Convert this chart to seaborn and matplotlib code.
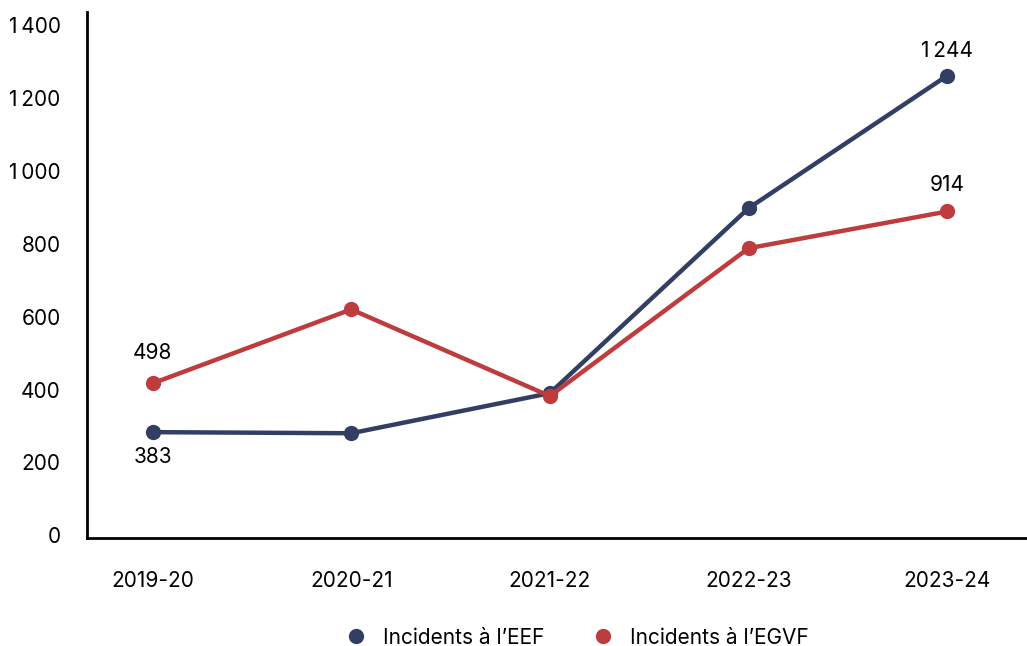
import pandas as pd
import matplotlib.pyplot as plt
import matplotlib.ticker as mticker
from matplotlib.lines import Line2D
import seaborn as sns

# data
years = ['2019-20', '2020-21', '2021-22', '2022-23', '2023-24']
eef = [283, 280, 390, 898, 1262]
egvf = [417, 620, 382, 788, 889]
series_names = ['Incidents à l\u2019EEF', 'Incidents à l\u2019EGVF']
colors = ['#323E62', '#BE3C3D']

# labels printed on the chart (index, text, offset in points)
eef_labels = [(0, '383', -18), (4, '1\u2009244', 18)]
egvf_labels = [(0, '498', 22), (4, '914', 19)]

df = pd.DataFrame({
    'year': years * 2,
    'value': eef + egvf,
    'series': [series_names[0]] * len(years) + [series_names[1]] * len(years),
})

sns.set_style('white')
plt.rcParams['font.family'] = ['Inter', 'DejaVu Sans']
plt.rcParams['text.color'] = 'black'

fig = plt.figure(figsize=(10.27, 6.46), dpi=100)
ax = fig.add_axes([0.0847, 0.167, 0.915, 0.814])

sns.lineplot(data=df, x='year', y='value', hue='series', palette=colors,
             marker='o', markersize=11, markeredgewidth=0, linewidth=3.2,
             sort=False, legend=False, ax=ax)

def fmt(v, pos):
    return f'{int(v):,}'.replace(',', '\u2009')

ax.yaxis.set_major_formatter(mticker.FuncFormatter(fmt))
ax.set_yticks(range(0, 1401, 200))
ax.set_ylim(-8, 1436)
ax.set_xlim(-0.33, 4.4)
ax.set_xlabel('')
ax.set_ylabel('')
ax.tick_params(axis='both', length=0, labelsize=15, colors='black')
ax.tick_params(axis='x', pad=24)
ax.tick_params(axis='y', pad=19)

for side in ['top', 'right']:
    ax.spines[side].set_visible(False)
for side in ['left', 'bottom']:
    ax.spines[side].set_color('black')
    ax.spines[side].set_linewidth(2)

for i, txt, dy in eef_labels:
    ax.annotate(txt, (i, eef[i]), xytext=(0, dy), textcoords='offset points',
                ha='center', va='center', fontsize=15, color='black')
for i, txt, dy in egvf_labels:
    ax.annotate(txt, (i, egvf[i]), xytext=(0, dy), textcoords='offset points',
                ha='center', va='center', fontsize=15, color='black')

handles = [Line2D([], [], linestyle='none', marker='o', markersize=11,
                  markerfacecolor=c, markeredgewidth=0) for c in colors]
fig.legend(handles, series_names, loc='center', bbox_to_anchor=(0.557, 0.013),
           ncol=2, frameon=False, fontsize=15, handletextpad=0.3,
           columnspacing=1.8)

fig.savefig('out.png', dpi=100)
